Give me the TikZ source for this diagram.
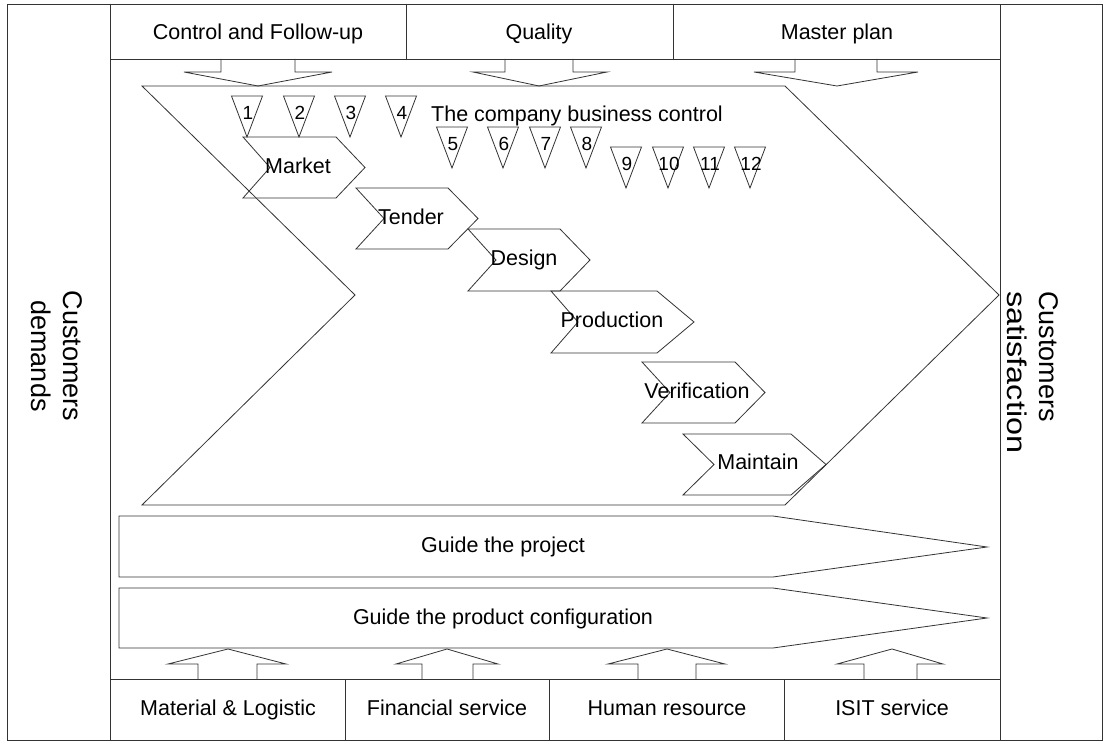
\documentclass[tikz,border=0pt]{standalone}
\usepackage{fontspec}
\setmainfont{Liberation Sans}
\begin{document}
\begin{tikzpicture}[x=1pt,y=-1pt]
\tikzset{
  ln/.style={draw=black!80, line width=0.8pt, line join=miter},
  lbl/.style={font=\fontsize{21.5}{24}\selectfont, inner sep=0pt, text=black,
              text height=15.5pt, text depth=4.5pt},
  num/.style={font=\fontsize{19}{22}\selectfont, inner sep=0pt, text=black,
              text height=13.6pt, text depth=0pt},
  side/.style={font=\fontsize{27}{32}\selectfont, rotate=-90, inner sep=0pt, text=black},
}
% canvas
\fill[white] (0,0) rectangle (1106,746);
\useasboundingbox (0,0) rectangle (1106,746);

% outer frame, side columns, top and bottom rows
\draw[ln] (7,4) rectangle (1102,740);
\draw[ln] (110,4) -- (110,740);
\draw[ln] (1000,4) -- (1000,740);
\draw[ln] (110,59) -- (1000,59);
\draw[ln] (406,4) -- (406,59);
\draw[ln] (673,4) -- (673,59);
\draw[ln] (110,679) -- (1000,679);
\draw[ln] (345,679) -- (345,740);
\draw[ln] (549,679) -- (549,740);
\draw[ln] (784,679) -- (784,740);

% row labels
\node[lbl] (ctrl)  at (258,34) {Control and Follow-up};
\node[lbl] (qual)  at (539,34) {Quality};
\node[lbl] (mplan) at (837,34) {Master plan};
\node[lbl] (mat)   at (228,710) {Material \& Logistic};
\node[lbl] (fin)   at (447,710) {Financial service};
\node[lbl] (hr)    at (667,710) {Human resource};
\node[lbl] (isit)  at (892,710) {ISIT service};

% side labels
\node[side, align=center] (cdem) at (57,356) {Customers\\demands};
\node[side, align=left, anchor=west] (csat) at (1033,291)
  {Customers\\\scalebox{1.2}[1]{satisfaction}};

% downward block arrows from the top row
\foreach \wl/\sl/\t/\sr/\wr in {184/221/258/295/332, 473/505/539/573/607, 754/795/837/877/918}
  \draw[ln] (\sl,59) -- (\sl,72) -- (\wl,72) -- (\t,86) -- (\wr,72) -- (\sr,72) -- (\sr,59);

% upward block arrows from the bottom row
\foreach \wl/\sl/\t/\sr/\wr in {168/198/228/257/286, 396/422/447/473/498, 608/638/667/696/725, 837/864/892/917/943}
  \draw[ln] (\sl,679) -- (\sl,664) -- (\wl,664) -- (\t,649) -- (\wr,664) -- (\sr,664) -- (\sr,679);

% large process chevron
\draw[ln] (142,86) -- (785,86) -- (999,295) -- (785,505) -- (142,505) -- (355,295) -- cycle;
\node[lbl] (bc) at (577,116) {The company business control};

% numbered markers
\foreach \n/\x/\y in {1/247/96, 2/299/96, 3/350/96, 4/401/96,
                      5/452/127, 6/503/127, 7/545/127, 8/586/127,
                      9/626/147, 10/668/147, 11/709/147, 12/750/147} {
  \draw[ln] (\x-15.5,\y) -- (\x+15.5,\y) -- (\x,\y+41) -- cycle;
  \node[num] (m\n) at (\x+1,\y+17) {\n};
}

% process stages: left x, notch x, right x, tip x, top y, bottom y
\foreach \l/\nx/\r/\t/\ya/\yb in {243/270/336/365/137/198, 356/384/448/478/188/249,
                                  468/496/560/590/229/291, 551/578/657/694/291/353,
                                  642/670/735/765/362/423, 683/714/791/826/434/495}
  \draw[ln] (\l,\ya) -- (\r,\ya) -- (\t,{(\ya+\yb)/2}) -- (\r,\yb) -- (\l,\yb) -- (\nx,{(\ya+\yb)/2}) -- cycle;
\node[lbl] (market) at (298,168) {Market};
\node[lbl] (tender) at (411,219) {Tender};
\node[lbl] (design) at (524,260) {Design};
\node[lbl] (prod)   at (612,322) {Production};
\node[lbl] (verif)  at (697,393) {Verification};
\node[lbl] (maint)  at (758,464) {Maintain};

% guiding arrows
\draw[ln] (119,516) -- (773,516) -- (987,547) -- (773,577) -- (119,577) -- cycle;
\node[lbl] (gproj) at (503,547) {Guide the project};
\draw[ln] (119,588) -- (773,588) -- (987,618) -- (773,648) -- (119,648) -- cycle;
\node[lbl] (gconf) at (503,619) {Guide the product configuration};
\end{tikzpicture}
\end{document}
